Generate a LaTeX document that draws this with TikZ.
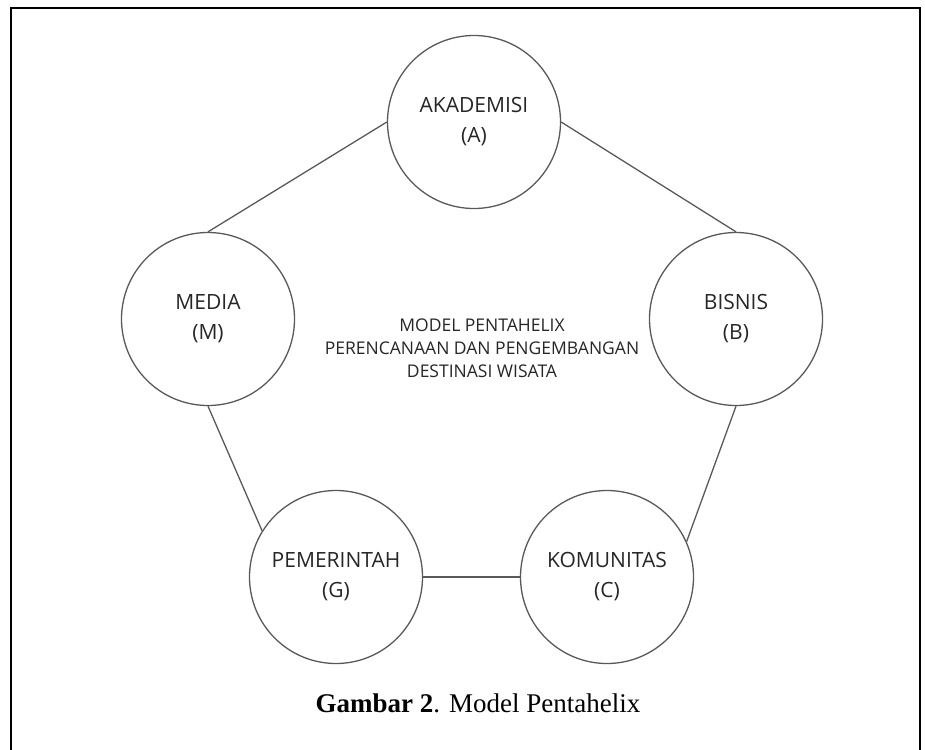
\documentclass[tikz,border=0pt]{standalone}
\usepackage{fontspec}
\setmainfont{Liberation Serif}
\newfontfamily\helixfont{Open Sans}
\begin{document}
\begin{tikzpicture} [
  x=1pt, y=-1pt,
  helix node/.style= {circle,draw=black!65,line width=1.3pt,minimum size=173pt,inner sep=0,
    align=center,text=black!85,font=\helixfont\fontsize{21}{30}\selectfont},
  helix edge/.style= {draw=black!65,line width=1.3pt},
]
\useasboundingbox (0,0) rectangle (925,749);
\clip (0,0) rectangle (925,749);
\draw [line width=2.5pt] (11,8) rectangle (920,775);

\node (A) [helix node] at (474,122) {AKADEMISI\\(A)};
\node (M) [helix node] at (208,319) {MEDIA\\(M)};
\node (B) [helix node] at (736,319) {BISNIS\\(B)};
\node (G) [helix node] at (336,577) {PEMERINTAH\\(G)};
\node (C) [helix node] at (607,577) {KOMUNITAS\\(C)};

\draw [helix edge] (A.west) -- (M.north);
\draw [helix edge] (A.east) -- (B.north);
\draw [helix edge] (M.south) -- (G.148);
\draw [helix edge] (B.south) -- (C.24);
\draw [helix edge] (G.east) -- (C.west);

\node (model) [align=center,text=black!85,font=\helixfont\fontsize{17.5}{23}\selectfont] at (482,348)
  {MODEL PENTAHELIX\\PERENCANAAN DAN PENGEMBANGAN\\DESTINASI WISATA};

\node (caption) [font=\fontsize{27}{32}\selectfont] at (478,703) {\textbf{Gambar 2}. Model Pentahelix};
\end{tikzpicture}
\end{document}
